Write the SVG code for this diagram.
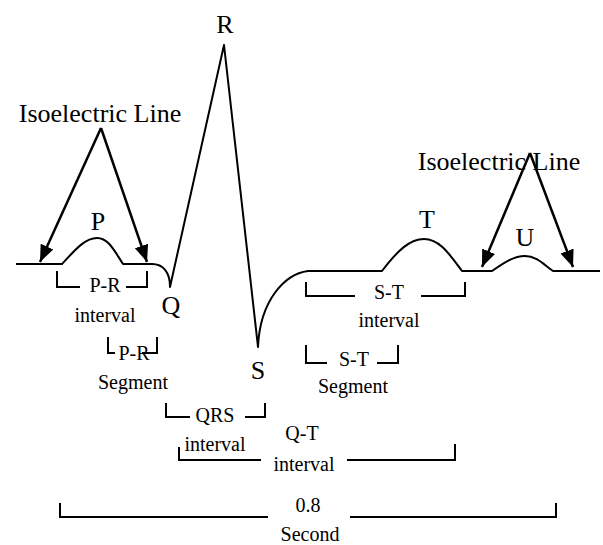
<svg xmlns="http://www.w3.org/2000/svg" width="603" height="545" viewBox="0 0 603 545">
  <style>
    .wave { fill: none; stroke: #000; stroke-width: 2; stroke-linejoin: round; }
    .brk { fill: none; stroke: #000; stroke-width: 2; }
    .arr { fill: none; stroke: #000; stroke-width: 2.5; marker-end: url(#head); }
    text { fill: #000; text-anchor: middle; }
    .big { font-size: 26px; }
    .sm { font-size: 20px; }
  </style>
  <defs>
    <marker id="head" markerUnits="userSpaceOnUse" markerWidth="20" markerHeight="16" refX="17" refY="7" orient="auto">
      <path d="M0,0 L17,7 L0,14 Z" fill="#000"/>
    </marker>
  </defs>

  <rect width="603" height="545" fill="#fff"/>

  <!-- ECG trace -->
  <g id="trace">
    <path class="wave" d="M16,264 H62 C75,250 85,238 97,238 C109,238 115,252 123,264 H152 C163,264 170,272 170,287 L224,45 L258,347 C260,300 285,274 308,271 H382 C398,250 410,239 424,239 C440,239 450,255 462,271 H492 C505,262 514,256 525,256 C537,256 545,266 553,271 H600"/>
  </g>

  <g font-family="'Liberation Serif', 'DejaVu Serif', 'Times New Roman', serif">
    <!-- wave labels -->
    <g id="wave-labels">
      <text class="big" x="98" y="230">P</text>
      <text class="big" x="225" y="33">R</text>
      <text class="big" x="171" y="314">Q</text>
      <text class="big" x="258" y="379">S</text>
      <text class="big" x="427" y="228">T</text>
      <text class="big" x="525" y="246">U</text>
    </g>

    <!-- isoelectric line callouts -->
    <g id="iso-left">
      <text class="big" x="100" y="122">Isoelectric Line</text>
    </g>
    <g id="iso-right">
      <text class="big" x="499" y="170">Isoelectric Line</text>
    </g>

    <!-- intervals and segments -->
    <g id="pr-interval">
      <path class="brk" d="M57,271 V287 H80 M126,287 H147 V271"/>
      <text class="sm" x="105" y="292">P-R</text>
      <text class="sm" x="105" y="322">interval</text>
    </g>
    <g id="pr-segment">
      <path class="brk" d="M108,337 V353 H115 M142,353 H157 V337"/>
      <text class="sm" x="134" y="360">P-R</text>
      <text class="sm" x="133" y="389">Segment</text>
    </g>
    <g id="qrs-interval">
      <path class="brk" d="M166,403 V417 H190 M245,417 H265 V403"/>
      <text class="sm" x="215" y="422">QRS</text>
      <text class="sm" x="215" y="451">interval</text>
    </g>
    <g id="qt-interval">
      <path class="brk" d="M179,447 V460 H261 M347,460 H455 V444"/>
      <text class="sm" x="302" y="440">Q-T</text>
      <text class="sm" x="304" y="471">interval</text>
    </g>
    <g id="st-interval">
      <path class="brk" d="M306,282 V296 H355 M421,296 H465 V282"/>
      <text class="sm" x="389" y="299">S-T</text>
      <text class="sm" x="389" y="327">interval</text>
    </g>
    <g id="st-segment">
      <path class="brk" d="M306,345 V363 H327 M377,363 H398 V345"/>
      <text class="sm" x="354" y="366">S-T</text>
      <text class="sm" x="353" y="393">Segment</text>
    </g>
    <g id="cycle">
      <path class="brk" d="M60,503 V517 H268 M350,517 H556 V503"/>
      <text class="sm" x="308" y="512">0.8</text>
      <text class="sm" x="310" y="541">Second</text>
    </g>
  </g>

  <!-- arrows from the isoelectric labels -->
  <g id="connectors">
    <line class="arr" x1="101" y1="128" x2="40" y2="262"/>
    <line class="arr" x1="101" y1="128" x2="147" y2="262"/>
    <line class="arr" x1="530" y1="153" x2="482" y2="267"/>
    <line class="arr" x1="530" y1="153" x2="573" y2="267"/>
  </g>
</svg>
